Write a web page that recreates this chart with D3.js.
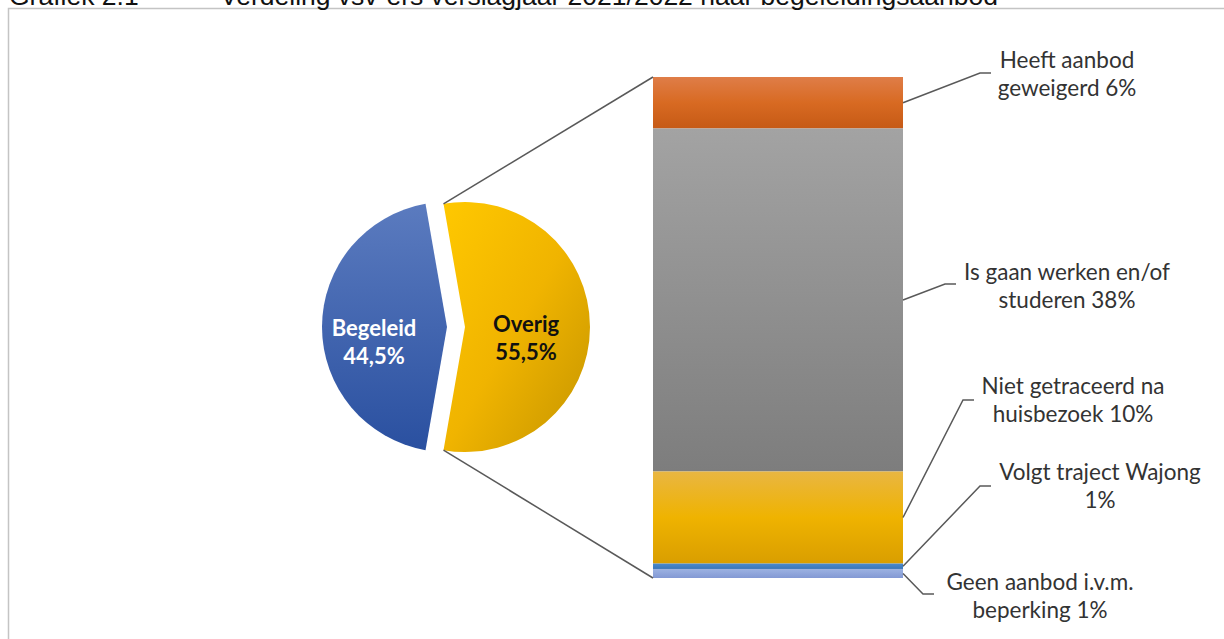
<!DOCTYPE html>
<html>
<head>
<meta charset="utf-8">
<script src="https://cdn.jsdelivr.net/npm/d3@7"></script>
<style>
  body { margin: 0; background: #fff; }
  svg { display: block; }
</style>
</head>
<body>
<svg id="chart" width="1224" height="639"></svg>
<script>
// pie: main split
var pieLabels = ['Overig', 'Begeleid'];
var pieValues = [55.5, 44.5];

// bar: breakdown of "Overig", top to bottom
var barLabels = [
  ['Heeft aanbod', 'geweigerd 6%'],
  ['Is gaan werken en/of', 'studeren 38%'],
  ['Niet getraceerd na', 'huisbezoek 10%'],
  ['Volgt traject Wajong', '1%'],
  ['Geen aanbod i.v.m.', 'beperking 1%']
];
var barValues = [5.7, 38.0, 10.2, 0.6, 1.0];

var titleLeft = 'Grafiek 2.1';
var titleRight = 'Verdeling vsv-ers verslagjaar 2021/2022 naar begeleidingsaanbod';

// label layout (text centre x, first line y, leader elbow x/y)
var labelPos = [
  {x: 1067, y: 60,  ex: 980, ey: 73},
  {x: 1067, y: 272, ex: 945, ey: 284},
  {x: 1073, y: 386, ex: 963, ey: 400},
  {x: 1100, y: 472, ex: 980, ey: 486},
  {x: 1040, y: 582, ex: 923, ey: 594}
];

var svg = d3.select('#chart');
var defs = svg.append('defs');

function vGrad(id, stops, x2, y2) {
  var g = defs.append('linearGradient').attr('id', id)
    .attr('x1', 0).attr('y1', 0).attr('x2', x2 || 0).attr('y2', y2 === undefined ? 1 : y2);
  stops.forEach(function(s) {
    g.append('stop').attr('offset', s[0]).attr('stop-color', s[1]);
  });
}
vGrad('gBlue', [[0, '#5b7bbf'], [1, '#2a50a0']]);
vGrad('gGold', [[0, '#ffc800'], [0.5, '#f0b400'], [1, '#c49400']], 1, 1);
vGrad('gOrange', [[0, '#df7d48'], [0.5, '#d86a22'], [1, '#c65a16']]);
vGrad('gGrey', [[0, '#a3a3a3'], [1, '#7d7d7d']]);
vGrad('gYellow', [[0, '#e9b642'], [0.5, '#efb300'], [1, '#d99e00']]);
vGrad('gBlue2', [[0, '#4a8ad0'], [1, '#3a76b8']]);
vGrad('gLBlue', [[0, '#9cb2e2'], [1, '#8399d4']]);

var barFills = ['url(#gOrange)', 'url(#gGrey)', 'url(#gYellow)', 'url(#gBlue2)', 'url(#gLBlue)'];
var pieFills = ['url(#gGold)', 'url(#gBlue)'];

// frame + title
svg.append('rect').attr('x', 8.5).attr('y', 8.5).attr('width', 1240).attr('height', 660)
  .attr('fill', 'none').attr('stroke', '#c4c4c4').attr('stroke-width', 1.5);

svg.append('text').attr('x', 9).attr('y', 5).text(titleLeft)
  .style('font-family', 'Liberation Sans, Arial, sans-serif').style('font-size', '26.5px').attr('fill', '#111');
svg.append('text').attr('x', 220).attr('y', 5).text(titleRight)
  .style('font-family', 'Liberation Sans, Arial, sans-serif').style('font-size', '26.5px').attr('fill', '#111');

// pie
var cx = 447, cy = 327, r = 125, explode = 18;
var total = d3.sum(pieValues);
var start = Math.PI / 2 - Math.PI * pieValues[0] / total;
var pie = d3.pie().sort(null).startAngle(start).endAngle(start + 2 * Math.PI);
var arcs = pie(pieValues);
var arc = d3.arc().innerRadius(0).outerRadius(r);

var pg = svg.append('g').attr('transform', 'translate(' + cx + ',' + cy + ')');
pg.selectAll('path').data(arcs).enter().append('path')
  .attr('d', arc)
  .attr('fill', function(d, i) { return pieFills[i]; })
  .attr('transform', function(d, i) { return i === 0 ? 'translate(' + explode + ',0)' : null; });

// bar
var barX = 653, barW = 250, barTop = 77, barBottom = 578;
var y = d3.scaleLinear().domain([0, d3.sum(barValues)]).range([barTop, barBottom]);
var cum = 0;
var segs = barValues.map(function(v, i) {
  var s = {i: i, v: v, y0: cum, y1: cum + v};
  cum += v;
  return s;
});
svg.selectAll('rect.seg').data(segs).enter().append('rect').attr('class', 'seg')
  .attr('x', barX).attr('width', barW)
  .attr('y', function(d) { return y(d.y0); })
  .attr('height', function(d) { return y(d.y1) - y(d.y0); })
  .attr('fill', function(d) { return barFills[d.i]; });

// connector lines pie -> bar
var ov = arcs[0];
var pTop = [cx + explode + r * Math.sin(ov.startAngle), cy - r * Math.cos(ov.startAngle)];
var pBot = [cx + explode + r * Math.sin(ov.endAngle), cy - r * Math.cos(ov.endAngle)];
svg.append('line').attr('x1', pTop[0]).attr('y1', pTop[1]).attr('x2', barX).attr('y2', y.range()[0])
  .attr('stroke', '#595959').attr('stroke-width', 1.5);
svg.append('line').attr('x1', pBot[0]).attr('y1', pBot[1]).attr('x2', barX).attr('y2', y.range()[1])
  .attr('stroke', '#595959').attr('stroke-width', 1.5);

// pie labels
var pieText = [
  {x: 526, y: 324, fill: '#111', lines: [pieLabels[0], '55,5%']},
  {x: 374, y: 328, fill: '#fff', lines: [pieLabels[1], '44,5%']}
];
pieText.forEach(function(t) {
  var tx = svg.append('text').attr('text-anchor', 'middle').attr('fill', t.fill)
    .style('font-family', 'Lato, sans-serif').style('font-weight', 'bold').style('font-size', '22px');
  t.lines.forEach(function(l, k) {
    tx.append('tspan').attr('x', t.x).attr('y', t.y + k * 28).attr('dy', '0.35em').text(l);
  });
});

// bar labels with leader lines
segs.forEach(function(s) {
  var p = labelPos[s.i];
  var ym = (y(s.y0) + y(s.y1)) / 2;
  svg.append('polyline')
    .attr('points', [[barX + barW, ym], [p.ex, p.ey], [p.ex + 11, p.ey]].map(function(q) { return q.join(','); }).join(' '))
    .attr('fill', 'none').attr('stroke', '#595959').attr('stroke-width', 1.5);
  var tx = svg.append('text').attr('text-anchor', 'middle').attr('fill', '#333')
    .style('font-family', 'Lato, sans-serif').style('font-size', '22.5px');
  barLabels[s.i].forEach(function(l, k) {
    tx.append('tspan').attr('x', p.x).attr('y', p.y + k * 28.5).attr('dy', '0.35em').text(l);
  });
});
</script>
</body>
</html>
